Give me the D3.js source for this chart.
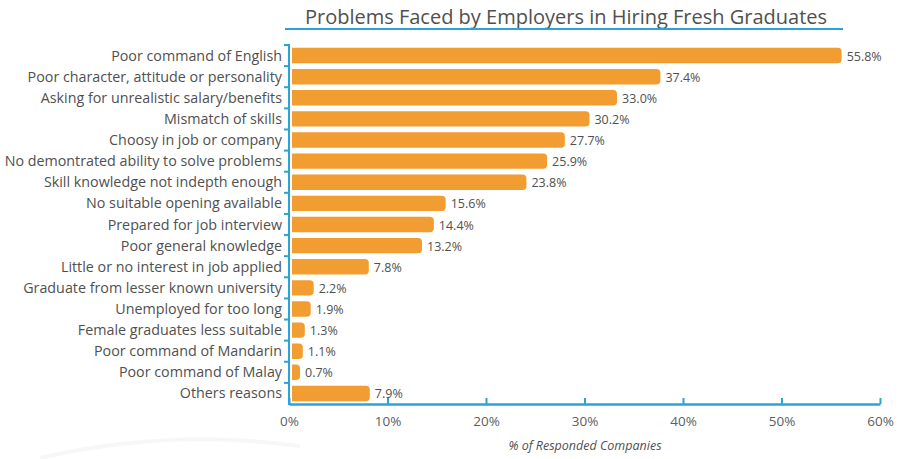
<!DOCTYPE html>
<html>
<head>
<meta charset="utf-8">
<script src="https://cdn.jsdelivr.net/npm/d3@7"></script>
<style>
  html, body { margin: 0; padding: 0; background: #fff; }
  svg { display: block; font-family: "Open Sans", "Noto Sans", sans-serif; }
</style>
</head>
<body>
<svg id="chart" width="900" height="459"></svg>
<script>
// Problems reported by employers, top to bottom
const categories = [
  "Poor command of English",
  "Poor character, attitude or personality",
  "Asking for unrealistic salary/benefits",
  "Mismatch of skills",
  "Choosy in job or company",
  "No demontrated ability to solve problems",
  "Skill knowledge not indepth enough",
  "No suitable opening available",
  "Prepared for job interview",
  "Poor general knowledge",
  "Little or no interest in job applied",
  "Graduate from lesser known university",
  "Unemployed for too long",
  "Female graduates less suitable",
  "Poor command of Mandarin",
  "Poor command of Malay",
  "Others reasons"
];
const percentages = [55.8, 37.4, 33.0, 30.2, 27.7, 25.9, 23.8, 15.6, 14.4, 13.2, 7.8, 2.2, 1.9, 1.3, 1.1, 0.7, 7.9];
const xTickValues = [0, 10, 20, 30, 40, 50, 60];

const title = "Problems Faced by Employers in Hiring Fresh Graduates";
const xAxisTitle = "% of Responded Companies";

const orange = "#F29D31";
const blue = "#2BA3DA";
const textGrey = "#505050";

const svg = d3.select("#chart");

const x = d3.scaleLinear().domain([0, 60]).range([289, 880]);
const y = d3.scaleBand().domain(categories).range([45, 404]).paddingInner(0.27).paddingOuter(0.135);

// faint decorative arc in the lower-left background
svg.append("path")
  .attr("d", "M 40 458 Q 170 428 300 446")
  .attr("fill", "none")
  .attr("stroke", "#f6f7f9")
  .attr("stroke-width", 4);

// title and its underline
svg.append("text")
  .attr("x", 566).attr("y", 24)
  .attr("text-anchor", "middle")
  .attr("font-size", 20)
  .attr("fill", textGrey)
  .text(title);
svg.append("line")
  .attr("x1", 285).attr("x2", 843)
  .attr("y1", 29).attr("y2", 29)
  .attr("stroke", blue).attr("stroke-width", 2);

// bars with rounded right ends
const r = 4;
const barPath = d => {
  const x0 = x(0) + 3;
  const w = Math.max(x(d.v) - x(0), 2 * r);
  const y0 = y(d.c), h = y.bandwidth();
  return `M${x0},${y0} H${x0 + w - r} Q${x0 + w},${y0} ${x0 + w},${y0 + r} V${y0 + h - r} Q${x0 + w},${y0 + h} ${x0 + w - r},${y0 + h} H${x0} Z`;
};
const rows = categories.map((c, i) => ({ c, v: percentages[i] }));

svg.append("g").selectAll("path")
  .data(rows).join("path")
  .attr("d", barPath)
  .attr("fill", orange);

// value labels
svg.append("g").selectAll("text")
  .data(rows).join("text")
  .attr("x", d => x(0) + 3 + Math.max(x(d.v) - x(0), 2 * r) + 5)
  .attr("y", d => y(d.c) + y.bandwidth() / 2 + 5)
  .attr("font-size", 12.5)
  .attr("fill", textGrey)
  .text(d => d.v.toFixed(1) + "%");

// y axis: line, ticks between rows, category labels
const yAxis = svg.append("g");
yAxis.append("line")
  .attr("x1", x(0)).attr("x2", x(0))
  .attr("y1", 44).attr("y2", 405)
  .attr("stroke", blue).attr("stroke-width", 2);
const step = y.step();
const boundaries = d3.range(categories.length).map(i => y(categories[i]) - (step - y.bandwidth()) / 2);
yAxis.selectAll("line.tick")
  .data(boundaries).join("line")
  .attr("class", "tick")
  .attr("x1", x(0) - 5).attr("x2", x(0))
  .attr("y1", d => d).attr("y2", d => d)
  .attr("stroke", blue).attr("stroke-width", 2);
yAxis.selectAll("text")
  .data(categories).join("text")
  .attr("x", x(0) - 7)
  .attr("y", d => y(d) + y.bandwidth() / 2 + 5)
  .attr("text-anchor", "end")
  .attr("font-size", 14.3)
  .attr("fill", textGrey)
  .text(d => d);

// x axis with upward ticks
const xAxis = svg.append("g").attr("transform", "translate(0,404)")
  .call(d3.axisBottom(x).tickValues(xTickValues).tickSize(-6).tickSizeOuter(0).tickPadding(12)
    .tickFormat(d => d + "%"));
xAxis.select(".domain").attr("stroke", blue).attr("stroke-width", 2.5);
xAxis.selectAll(".tick line").attr("stroke", blue).attr("stroke-width", 2);
xAxis.selectAll(".tick text")
  .attr("font-size", 13.5)
  .attr("fill", "#606060")
  .attr("font-family", "Open Sans, Noto Sans, sans-serif");

svg.append("text")
  .attr("x", 585).attr("y", 450)
  .attr("text-anchor", "middle")
  .attr("font-size", 12.5)
  .attr("font-style", "italic")
  .attr("fill", textGrey)
  .text(xAxisTitle);
</script>
</body>
</html>
